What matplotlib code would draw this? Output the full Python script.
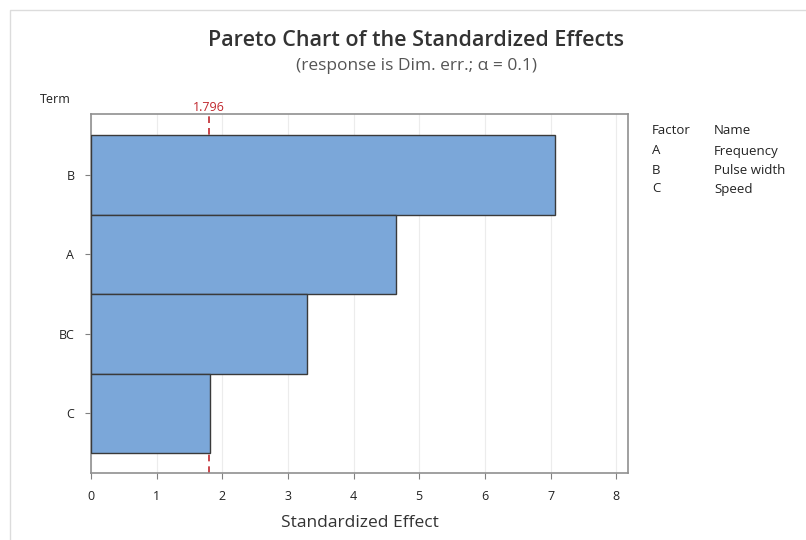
import matplotlib.pyplot as plt
from matplotlib.patches import Rectangle

plt.rcParams['font.family'] = ['Open Sans', 'DejaVu Sans']

# Pareto data (largest effect on top)
terms = ['B', 'A', 'BC', 'C']
effects = [7.07, 4.65, 3.29, 1.82]
critical = 1.796
xticks = [0, 1, 2, 3, 4, 5, 6, 7, 8]

factors = ['A', 'B', 'C']
names = ['Frequency', 'Pulse width', 'Speed']

fig = plt.figure(figsize=(8.06, 5.4), dpi=100)
ax = fig.add_axes([91 / 806, 1 - 473 / 540, (628 - 91) / 806, (473 - 114) / 540])

# light frame around the whole graph
fig.patches.append(Rectangle((10 / 806, -0.1), 1.2, 1 - 10 / 540 + 0.1,
                             transform=fig.transFigure, fill=False,
                             edgecolor='#dcdcdc', linewidth=1))

ypos = list(range(len(terms)))
ax.barh(ypos, effects, height=1.0, color='#7ba7d9', edgecolor='#3a3a3a',
        linewidth=1, zorder=3)
ax.axvline(critical, color='#c0272d', linestyle=(0, (4, 3)), linewidth=1.2, zorder=2)

ax.set_xlim(0, 8.18)
ax.set_ylim(3.5 + 0.25, -0.5 - 0.265)
ax.set_xticks(xticks)
ax.set_xticklabels([str(t) for t in xticks], fontsize=9, color='#222222')
ax.set_yticks(ypos)
ax.set_yticklabels(terms, fontsize=9, color='#222222')
ax.tick_params(axis='both', length=4, color='#808080', pad=8)
ax.grid(axis='x', color='#ececec', linewidth=0.8, zorder=0)
ax.set_axisbelow(True)
for s in ax.spines.values():
    s.set_color('#909090')
    s.set_linewidth(1.2)

ax.set_xlabel('Standardized Effect', fontsize=12.5, color='#333333', labelpad=9)

fig.text(55 / 806, 1 - 100 / 540, 'Term', fontsize=9, ha='center', va='center', color='#222222')
ax.text(critical, -0.5 - 0.265, '1.796', transform=ax.transData, fontsize=9,
        color='#c0272d', ha='center', va='bottom')

fig.text(416 / 806, 1 - 40 / 540, 'Pareto Chart of the Standardized Effects',
         fontsize=15.5, fontweight='semibold', ha='center', va='center', color='#333333')
fig.text(416 / 806, 1 - 66 / 540, '(response is Dim. err.; \u03b1 = 0.1)',
         fontsize=12.5, ha='center', va='center', color='#555555')

# factor / name table
fig.text(652 / 806, 1 - 131 / 540, 'Factor', fontsize=9.5, va='center', color='#222222')
fig.text(714 / 806, 1 - 131 / 540, 'Name', fontsize=9.5, va='center', color='#222222')
for i, (f, n) in enumerate(zip(factors, names)):
    yy = 1 - (151 + i * 19) / 540
    fig.text(652 / 806, yy, f, fontsize=9.5, va='center', color='#222222')
    fig.text(714 / 806, yy, n, fontsize=9.5, va='center', color='#222222')

plt.savefig('out.png', dpi=100)
